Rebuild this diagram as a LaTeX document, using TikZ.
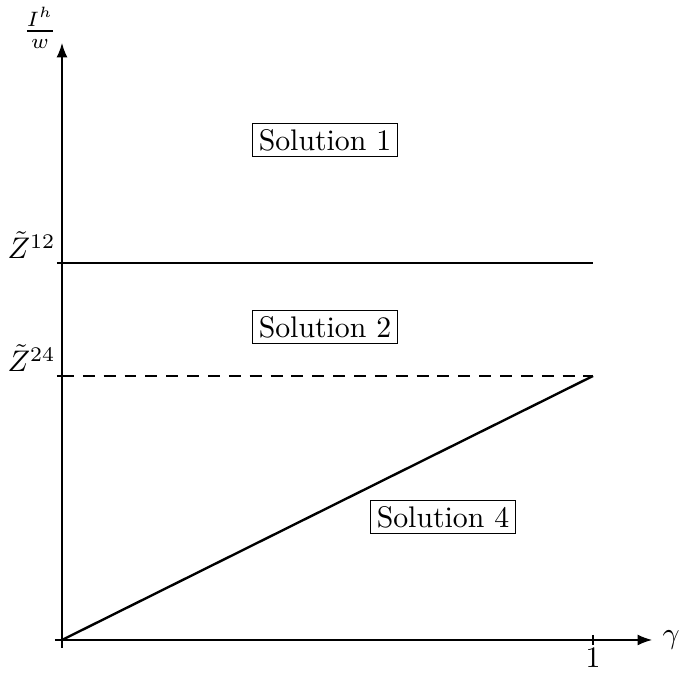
\documentclass[tikz,border=0pt]{standalone}
\usepackage{amsmath}
\usepackage{tikz}
\usetikzlibrary{arrows.meta, positioning}

\begin{document}
\begin{tikzpicture}[
  x=0.0118cm, y=-0.0118cm,
  axis/.style   = {-Latex},
  region/.style = {draw, thin, inner sep=2pt},
  bound/.style  = {thick},
]
  \useasboundingbox (0,0) rectangle (680,675);

  % axes
  \coordinate (o)    at (62,640);
  \coordinate (xbeg) at (55,640);
  \coordinate (xend) at (652,640);
  \coordinate (ybeg) at (62,648);
  \coordinate (yend) at (62,43);
  \draw[axis] (xbeg) -- (xend) node[right] (gam) {$\gamma$};
  \draw[axis] (ybeg) -- (yend);
  \node (ylab) at (40,28) {$\frac{I^h}{w}$};

  % tick at gamma = 1
  \coordinate (one) at (593,640);
  \draw (593,635) -- (593,645) node[below, inner sep=1pt] (onelab) {$1$};

  % thresholds
  \coordinate (z12l) at (62,263);
  \coordinate (z12r) at (593,263);
  \coordinate (z24l) at (62,376);
  \coordinate (z24r) at (593,376);
  \draw (57,263) -- (z12l);
  \draw (57,376) -- (z24l);
  \node[left, inner sep=2pt, yshift=6pt] (z12) at (z12l) {$\tilde{Z}^{12}$};
  \node[left, inner sep=2pt, yshift=6pt] (z24) at (z24l) {$\tilde{Z}^{24}$};
  \draw[bound] (z12l) -- (z12r);
  \draw[dashed, dash pattern=on 4pt off 3pt] (z24l) -- (z24r);
  \draw[bound] (o) -- (z24r);

  % regions
  \node[region] (sol1) at (325,140) {Solution 1};
  \node[region] (sol2) at (325,327) {Solution 2};
  \node[region] (sol4) at (443,517) {Solution 4};
\end{tikzpicture}
\end{document}
